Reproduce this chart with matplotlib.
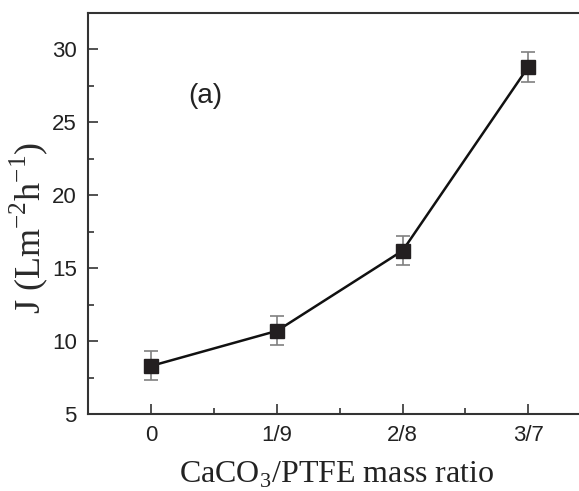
import numpy as np
import matplotlib.pyplot as plt

# flux vs CaCO3/PTFE mass ratio
ratio_labels = ['0', '1/9', '2/8', '3/7']
flux = [8.3, 10.7, 16.2, 28.8]
flux_err = [1.0, 1.0, 1.0, 1.0]

plt.rcParams['font.family'] = 'Liberation Sans'
plt.rcParams['mathtext.fontset'] = 'custom'
plt.rcParams['mathtext.rm'] = 'Liberation Serif'

fig = plt.figure(figsize=(5.79, 4.91), dpi=100)
ax = fig.add_axes([88/579, (491-414)/491, 1.01 - 88/579, (414-13)/491])

x = np.arange(len(ratio_labels))
ax.errorbar(x, flux, yerr=flux_err, fmt='none', ecolor='#808080',
            elinewidth=1.2, capsize=5, capthick=1.2, zorder=2)
ax.plot(x, flux, color='#111111', linewidth=1.8, marker='s', markersize=10,
        markerfacecolor='#231f20', markeredgecolor='#231f20', zorder=3)

ax.set_xlim(-0.504, 3.45)
ax.set_ylim(5, 32.5)
ax.set_xticks(x)
ax.set_xticklabels(ratio_labels)
ax.set_xticks([0.5, 1.5, 2.5], minor=True)
ax.set_yticks([5, 10, 15, 20, 25, 30])
ax.set_yticks([7.5, 12.5, 17.5, 22.5, 27.5], minor=True)
ax.tick_params(which='both', direction='in', labelsize=16, color='#333333',
               width=1.2, labelcolor='#222222')
ax.tick_params(which='major', length=7, pad=8)
ax.tick_params(which='minor', length=4)

for side in ['left', 'bottom', 'top']:
    ax.spines[side].set_linewidth(1.5)
    ax.spines[side].set_color('#333333')
ax.spines['right'].set_visible(False)

ax.text(0.43, 26.8, '(a)', fontsize=20, color='#222222', ha='center', va='center')

ax.set_xlabel(r'CaCO$_3$/PTFE mass ratio', family='Liberation Serif',
              fontsize=23, color='#222222', labelpad=10)
ax.set_ylabel(r'J (Lm$^{\mathregular{-2}}$h$^{\mathregular{-1}}$)', family='Liberation Serif',
              fontsize=26, color='#2a2a2a')
ax.yaxis.set_label_coords(-0.076, 0.465)

fig.savefig('out.png', dpi=100)
